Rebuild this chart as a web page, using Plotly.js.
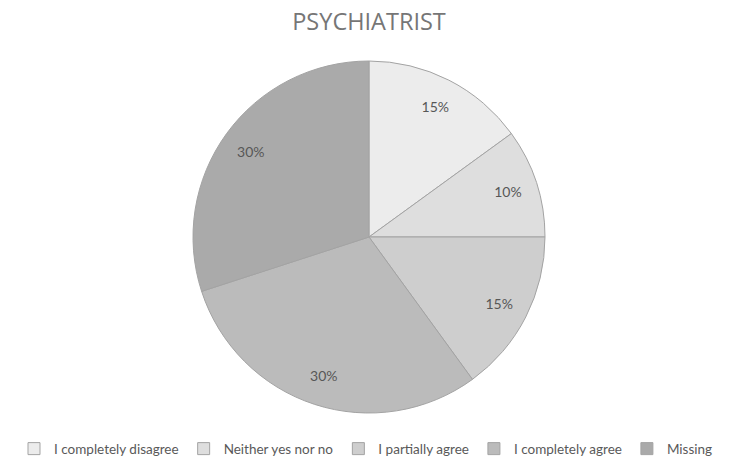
<!DOCTYPE html>
<html>
<head>
<meta charset="utf-8">
<script src="https://cdn.plot.ly/plotly-3.0.1.min.js"></script>
<style>html,body{margin:0;padding:0;background:#fff}#chart{width:732px;height:458px}</style>
</head>
<body>
<div id="chart"></div>
<script>
const categories = ["I completely disagree", "Neither yes nor no", "I partially agree", "I completely agree", "Missing"];
const percentages = [15, 10, 15, 30, 30];
const sliceColors = ["#ececec", "#dedede", "#cecece", "#bbbbbb", "#aaaaaa"];
const transparent = categories.map(() => "rgba(0,0,0,0)");

const pieTrace = {
  type: "pie",
  labels: categories,
  values: percentages,
  sort: false,
  direction: "clockwise",
  rotation: 0,
  marker: {colors: sliceColors, line: {color: "#a3a3a3", width: 1}},
  textinfo: "none",
  hoverinfo: "label+percent"
};

// transparent ring carrying the data labels, so they sit near the rim as in the reference
const labelTrace = {
  type: "pie",
  labels: categories,
  values: percentages,
  sort: false,
  direction: "clockwise",
  rotation: 0,
  hole: 0.66,
  showlegend: false,
  marker: {colors: transparent, line: {width: 0}},
  texttemplate: "%{value}%",
  textposition: "inside",
  insidetextorientation: "horizontal",
  textfont: {family: "Lato, 'Open Sans', sans-serif", size: 14, color: "#575757"},
  hoverinfo: "skip"
};

const layout = {
  width: 732,
  height: 458,
  margin: {l: 6, r: 0, t: 61, b: 45},
  paper_bgcolor: "#ffffff",
  title: {
    text: "PSYCHIATRIST",
    font: {family: "'Open Sans', Lato, sans-serif", size: 23.5, color: "#767676"},
    x: 0.5, xanchor: "center", xref: "paper",
    y: 0.952, yanchor: "middle", yref: "container"
  },
  showlegend: true,
  legend: {
    orientation: "h",
    xref: "container", yref: "container",
    x: 0.5, xanchor: "center",
    y: 0.02, yanchor: "middle",
    font: {family: "Lato, 'Open Sans', sans-serif", size: 13.5, color: "#595959"},
    itemwidth: 30,
    traceorder: "normal"
  }
};

Plotly.newPlot("chart", [pieTrace, labelTrace], layout, {displayModeBar: false, staticPlot: true});
</script>
</body>
</html>
